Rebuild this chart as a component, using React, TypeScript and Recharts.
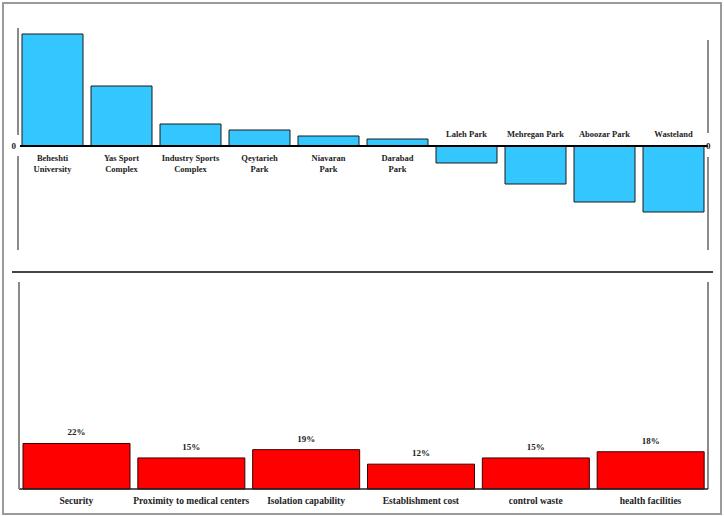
import {
  ComposedChart,
  Bar,
  Line,
  XAxis,
  YAxis,
  LabelList,
  ReferenceLine,
} from "recharts";

// top chart: net flow of each candidate site
const siteNames = [
  "Beheshti\nUniversity",
  "Yas Sport\nComplex",
  "Industry Sports\nComplex",
  "Qeytarieh\nPark",
  "Niavaran\nPark",
  "Darabad\nPark",
  "Laleh Park",
  "Mehregan Park",
  "Aboozar Park",
  "Wasteland",
];
const siteScores = [0.56, 0.3, 0.11, 0.08, 0.05, 0.035, -0.085, -0.19, -0.28, -0.33];

// bottom chart: criteria weights (%)
const criteria = [
  "Security",
  "Proximity to medical centers",
  "Isolation capability",
  "Establishment cost",
  "control waste",
  "health facilities",
];
const weights = [22, 15, 19, 12, 15, 18];

const sites = siteNames.map((name, i) => ({ name, score: siteScores[i], pos: i }));
const weightData = criteria.map((name, i) => ({ name, weight: weights[i], pos: i }));
const siteEnd = sites.length - 1;
const critEnd = weightData.length - 1;

const SERIF = "'Liberation Serif', 'Times New Roman', serif";
const GRAY = "#8a8a8a";

const ZeroTick = ({ x, y, payload, side }: any) => {
  if (payload.value !== 0) return null;
  const left = side === "left";
  return (
    <g>
      {left && <rect x={x - 2} y={y - 11} width={4} height={21} fill="#fff" />}
      <text
        x={x - 2}
        y={y}
        dy={3}
        textAnchor={left ? "end" : "start"}
        fontFamily={SERIF}
        fontWeight="bold"
        fontSize={9}
        fill="#222">
        {payload.value}
      </text>
    </g>
  );
};

const SiteLabel = (props: any) => {
  const { x, y, width, height, value, index } = props;
  const positive = siteScores[index] >= 0;
  const zeroY = positive ? Math.max(y, y + height) : Math.min(y, y + height);
  const lines = String(value).split("\n");
  const cx = x + width / 2;
  return (
    <text
      x={cx}
      y={positive ? zeroY + 15 : zeroY - 9}
      textAnchor="middle"
      fontFamily={SERIF}
      fontWeight="bold"
      fontSize={8.5}
      fill="#222">
      {lines.map((l, i) => (
        <tspan key={i} x={cx} dy={i === 0 ? 0 : 10.5}>
          {l}
        </tspan>
      ))}
    </text>
  );
};

export default function App() {
  return (
    <div
      style={{
        position: "absolute",
        left: 0,
        top: 0,
        width: 724,
        height: 517,
        background: "#fff",
      }}>
      <div
        style={{
          position: "absolute",
          left: 2,
          top: 2,
          width: 716,
          height: 509,
          border: "2px solid #9a9a9a",
        }}
      />
      <div style={{ position: "absolute", left: 0, top: 0 }}>
        <ComposedChart
          width={724}
          height={270}
          data={sites}
          margin={{ top: 28, right: 0, bottom: 20, left: 0 }}
          barCategoryGap={4}>
          <XAxis dataKey="name" hide />
          <XAxis
            xAxisId="edge"
            dataKey="pos"
            type="number"
            domain={[0, siteEnd]}
            allowDataOverflow
            hide
          />
          <YAxis
            yAxisId="l"
            orientation="left"
            width={18}
            domain={[-0.52, 0.59]}
            ticks={[0]}
            tickLine={false}
            tickSize={0}
            tickMargin={0}
            axisLine={{ stroke: GRAY, strokeWidth: 2 }}
            tick={<ZeroTick side="left" />}
          />
          <YAxis
            yAxisId="r"
            orientation="right"
            width={16}
            domain={[-0.52, 0.59]}
            ticks={[0]}
            tickLine={false}
            tickSize={0}
            tickMargin={0}
            axisLine={false}
            tick={<ZeroTick side="right" />}
          />
          <Bar
            yAxisId="l"
            dataKey="score"
            fill="#33c6ff"
            stroke="#1a1a1a"
            strokeWidth={1}
            isAnimationActive={false}>
            <LabelList dataKey="name" content={<SiteLabel />} />
          </Bar>
          <Line
            yAxisId="r"
            dataKey="score"
            stroke="none"
            dot={false}
            activeDot={false}
            isAnimationActive={false}
          />
          <ReferenceLine yAxisId="l" y={0} stroke="#000" strokeWidth={2} />
          <ReferenceLine
            xAxisId="edge"
            yAxisId="l"
            ifOverflow="visible"
            segment={[{ x: siteEnd, y: 0.53 }, { x: siteEnd, y: 0.065 }]}
            stroke={GRAY}
            strokeWidth={2}
          />
          <ReferenceLine
            xAxisId="edge"
            yAxisId="l"
            ifOverflow="visible"
            segment={[{ x: siteEnd, y: -0.055 }, { x: siteEnd, y: -0.52 }]}
            stroke={GRAY}
            strokeWidth={2}
          />
        </ComposedChart>
      </div>
      <div
        style={{
          position: "absolute",
          left: 12,
          top: 271,
          width: 701,
          height: 0,
          borderTop: "2px solid #444",
        }}
      />
      <div style={{ position: "absolute", left: 0, top: 260 }}>
        <ComposedChart
          width={724}
          height={257}
          data={weightData}
          margin={{ top: 22, right: 16, bottom: 0, left: 0 }}
          barCategoryGap={4}>
          <XAxis
            dataKey="name"
            height={28}
            axisLine={{ stroke: "#222", strokeWidth: 1.5 }}
            tickLine={false}
            interval={0}
            tick={{
              fontFamily: SERIF,
              fontWeight: "bold",
              fontSize: 9.5,
              fill: "#222",
            }}
          />
          <XAxis
            xAxisId="edge"
            dataKey="pos"
            type="number"
            domain={[0, critEnd]}
            allowDataOverflow
            hide
          />
          <YAxis
            yAxisId="l"
            orientation="left"
            width={19}
            domain={[0, 100]}
            tick={false}
            tickLine={false}
            axisLine={{ stroke: GRAY, strokeWidth: 2 }}
          />
          <Bar
            yAxisId="l"
            dataKey="weight"
            fill="#ff0000"
            stroke="#3a0000"
            strokeWidth={1}
            isAnimationActive={false}>
            <LabelList
              dataKey="weight"
              position="top"
              offset={8}
              formatter={(v: any) => `${v}%`}
              style={{
                fontFamily: SERIF,
                fontWeight: "bold",
                fontSize: 9,
                fill: "#222",
              }}
            />
          </Bar>
          <ReferenceLine
            xAxisId="edge"
            yAxisId="l"
            ifOverflow="visible"
            x={critEnd}
            stroke={GRAY}
            strokeWidth={2}
          />
        </ComposedChart>
      </div>
    </div>
  );
}
